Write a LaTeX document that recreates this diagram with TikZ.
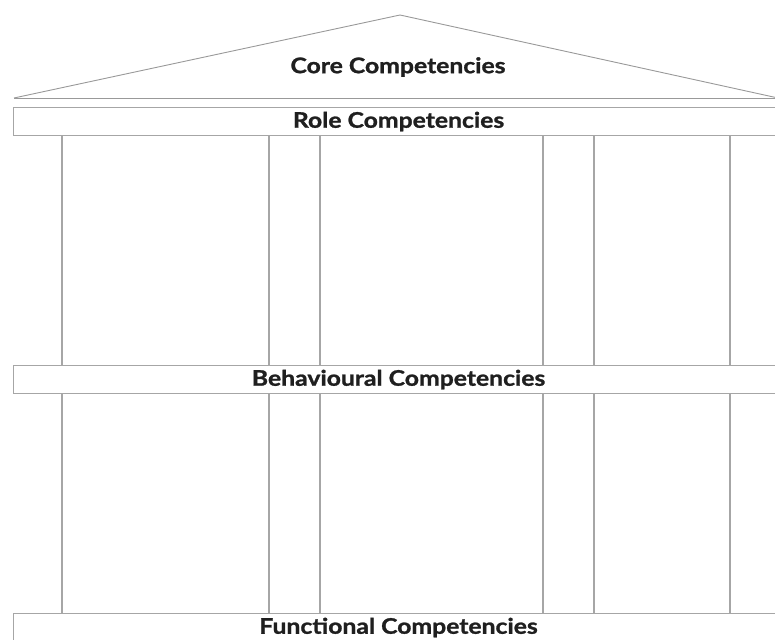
\documentclass[tikz,border=0pt]{standalone}
\usepackage{fontspec}
\setmainfont{Lato}
\newfontfamily\bandfont{Lato}[FakeStretch=1.15,BoldFeatures={FakeBold=1.2}]
\usepackage{tikz}
\usetikzlibrary{calc}
\tikzset{
  label text/.style={
    font=\bandfont\fontsize{21.5}{24}\selectfont\bfseries,text=black!88,
  },
  band/.style={
    label text,draw=gray!70,line width=1.1pt,anchor=north west,
    minimum width=770pt,minimum height=28pt,inner sep=0pt,
  },
  pillar/.style={draw=gray!70,line width=1.1pt},
  roof/.style={draw=gray!80,line width=0.9pt},
}

\begin{document}
\begin{tikzpicture}[x=1pt,y=-1pt]
    \useasboundingbox (0,0) rectangle (775,639);
    % roof
    \coordinate (rl) at (14,98);
    \coordinate (rt) at (400,15);
    \coordinate (rr) at (778,98);
    \draw[roof] (rl) -- (rt) -- (rr);
    \draw[roof] (rl) -- (rr);
    \node[label text] (core) at (398,67) {Core Competencies};
    % bands
    \node[band] (role) at (13,107) {Role Competencies};
    \node[band] (behav) at (13,365) {Behavioural Competencies};
    \node[band] (func) at (13,613) {Functional Competencies};
    % pillars
    \foreach \px in {62,269,320,543,594,730} {
        \draw[pillar] (role.south -| \px,0) -- (behav.north -| \px,0);
        \draw[pillar] (behav.south -| \px,0) -- (func.north -| \px,0);
    }
\end{tikzpicture}
\end{document}
